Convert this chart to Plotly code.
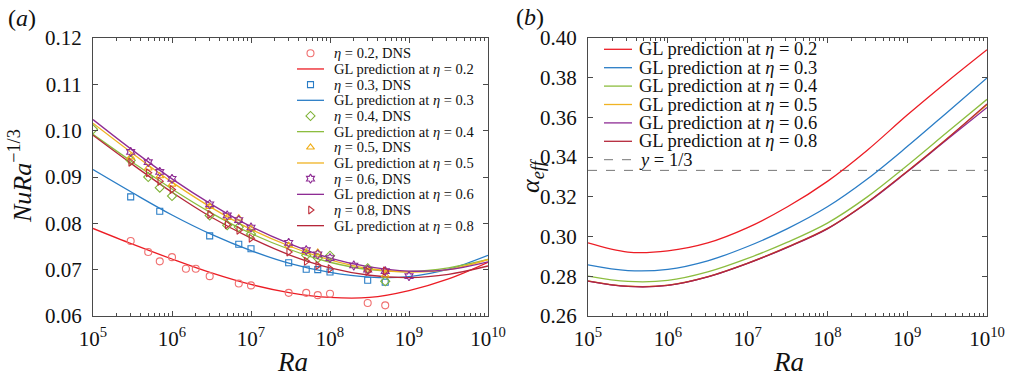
import plotly.graph_objects as go

# ---------------- data ----------------
ETA_LABELS = ["0.2", "0.3", "0.4", "0.5", "0.6", "0.8"]

# GL-prediction sampling points (Ra)
RA_GRID = [1e5, 3.162e5, 1e6, 3.162e6, 1e7, 3.162e7, 1e8, 3.162e8, 1e9, 3.162e9, 1e10]

# panel (a): Nu Ra^(-1/3), GL predictions
GL_NU_02 = [0.0789, 0.0755, 0.0723, 0.0693, 0.0668, 0.0650, 0.0640, 0.0640, 0.0655, 0.0680, 0.0716]
GL_NU_03 = [0.0916, 0.0866, 0.0818, 0.0776, 0.0741, 0.0713, 0.0694, 0.0684, 0.0685, 0.0701, 0.0731]
GL_NU_04 = [0.0992, 0.0932, 0.0874, 0.0822, 0.0778, 0.0743, 0.0716, 0.0700, 0.0696, 0.0704, 0.0722]
GL_NU_05 = [0.1016, 0.0951, 0.0889, 0.0834, 0.0787, 0.0750, 0.0721, 0.0702, 0.0695, 0.0700, 0.0722]
GL_NU_06 = [0.1024, 0.0958, 0.0896, 0.0841, 0.0793, 0.0755, 0.0725, 0.0706, 0.0697, 0.0700, 0.0717]
GL_NU_08 = [0.0990, 0.0927, 0.0867, 0.0813, 0.0768, 0.0731, 0.0704, 0.0688, 0.0683, 0.0690, 0.0708]

# panel (a): DNS points
DNS_RA_02 = [3e5, 5e5, 7e5, 1e6, 1.5e6, 2e6, 3e6, 7e6, 1e7, 3e7, 5e7, 7e7, 1e8, 3e8, 5e8]
DNS_NU_02 = [0.0762, 0.0738, 0.0718, 0.0727, 0.0702, 0.0702, 0.0686, 0.0670, 0.0666, 0.0650, 0.0650,
             0.0645, 0.0648, 0.0628, 0.0623]
DNS_RA_03 = [3e5, 7e5, 3e6, 7e6, 1e7, 3e7, 5e7, 7e7, 1e8, 3e8, 5e8]
DNS_NU_03 = [0.0857, 0.0826, 0.0773, 0.0755, 0.0745, 0.0715, 0.0701, 0.0700, 0.0695, 0.0677, 0.0673]
DNS_RA_04 = [1e5, 3e5, 5e5, 7e5, 1e6, 3e6, 5e6, 7e6, 1e7, 5e7, 7e7, 1e8, 3e8, 5e8]
DNS_NU_04 = [0.1003, 0.0936, 0.0900, 0.0877, 0.0859, 0.0817, 0.0796, 0.0792, 0.0777, 0.0731, 0.0725,
             0.0730, 0.0703, 0.0675]
DNS_RA_05 = [3e5, 5e5, 7e5, 1e6, 3e6, 5e6, 7e6, 1e7, 3e7, 5e7, 7e7, 3e8, 5e8]
DNS_NU_05 = [0.0943, 0.0919, 0.0902, 0.0884, 0.0836, 0.0812, 0.0811, 0.0788, 0.0752, 0.0738, 0.0737,
             0.0701, 0.0688]
DNS_RA_06 = [3e5, 5e5, 7e5, 1e6, 3e6, 5e6, 7e6, 1e7, 3e7, 5e7, 7e7, 1e8, 2e8, 3e8, 5e8, 1e9]
DNS_NU_06 = [0.0954, 0.0932, 0.0911, 0.0896, 0.0841, 0.0817, 0.0807, 0.0791, 0.0758, 0.0742, 0.0733,
             0.0725, 0.0709, 0.0700, 0.0697, 0.0686]
DNS_RA_08 = [3e5, 5e5, 7e5, 1e6, 3e6, 5e6, 7e6, 1e7, 3e7, 5e7, 7e7, 1e8, 3e8, 5e8]
DNS_NU_08 = [0.0932, 0.0909, 0.0891, 0.0873, 0.0819, 0.0797, 0.0785, 0.0768, 0.0738, 0.0718, 0.0709,
             0.0702, 0.0696, 0.0697]

# panel (b): alpha_eff, GL predictions
ALPHA_02 = [0.2968, 0.2922, 0.2928, 0.2968, 0.3045, 0.3150, 0.3278, 0.3435, 0.3612, 0.3780, 0.3941]
ALPHA_03 = [0.2858, 0.2829, 0.2835, 0.2878, 0.2950, 0.3040, 0.3150, 0.3290, 0.3453, 0.3625, 0.3799]
ALPHA_04 = [0.2801, 0.2774, 0.2779, 0.2822, 0.2890, 0.2972, 0.3068, 0.3200, 0.3358, 0.3525, 0.3691]
ALPHA_05 = [0.2777, 0.2750, 0.2755, 0.2798, 0.2866, 0.2948, 0.3041, 0.3173, 0.3329, 0.3494, 0.3663]
ALPHA_06 = [0.2776, 0.2749, 0.2754, 0.2797, 0.2865, 0.2946, 0.3039, 0.3170, 0.3326, 0.3489, 0.3650]
ALPHA_08 = [0.2776, 0.2749, 0.2754, 0.2797, 0.2865, 0.2947, 0.3040, 0.3172, 0.3328, 0.3493, 0.3668]
ONE_THIRD = 1 / 3

X_TICKS = [1e5, 1e6, 1e7, 1e8, 1e9, 1e10]
X_TICKTEXT = ["10<sup>5</sup>", "10<sup>6</sup>", "10<sup>7</sup>", "10<sup>8</sup>",
              "10<sup>9</sup>", "10<sup>10</sup>"]
X_MINOR_TICKS = [m * d for d in X_TICKS[:-1] for m in range(2, 10)]
YA_TICKS = [0.06, 0.07, 0.08, 0.09, 0.10, 0.11, 0.12]
YB_TICKS = [0.26, 0.28, 0.30, 0.32, 0.34, 0.36, 0.38, 0.40]

# ---------------- style ----------------
W, H = 1013, 379
FONT = "Liberation Serif, Times New Roman, serif"
LINE_COLORS = ["#ec1c24", "#2a7dc6", "#8cbd3f", "#f0b323", "#8e2c94", "#b5273a"]
MARKER_COLORS = ["#f07070", "#2a7dc6", "#7fb236", "#f0ad16", "#8e2c94", "#c0313d"]
SYMBOLS = ["circle-open", "square-open", "diamond-open", "triangle-up-open",
           "hexagram-open", "triangle-right-open"]
MSIZE = [7, 6, 7, 7, 7, 7]
AXIS_COL = "#4a4a4a"

# pixel geometry of the two panels
LX0, LX1 = 93, 488
RX0, RX1 = 588, 987
PY0, PY1 = 38, 316

gl_nu = [GL_NU_02, GL_NU_03, GL_NU_04, GL_NU_05, GL_NU_06, GL_NU_08]
dns_ra = [DNS_RA_02, DNS_RA_03, DNS_RA_04, DNS_RA_05, DNS_RA_06, DNS_RA_08]
dns_nu = [DNS_NU_02, DNS_NU_03, DNS_NU_04, DNS_NU_05, DNS_NU_06, DNS_NU_08]
alphas = [ALPHA_02, ALPHA_03, ALPHA_04, ALPHA_05, ALPHA_06, ALPHA_08]

fig = go.Figure()

# panel (a) curves & points
for i in range(len(ETA_LABELS)):
    fig.add_trace(go.Scatter(x=RA_GRID, y=gl_nu[i], mode="lines", line=dict(color=LINE_COLORS[i], width=1.3,
                             shape="spline", smoothing=1.0), xaxis="x", yaxis="y", showlegend=False))
for i in range(len(ETA_LABELS)):
    fig.add_trace(go.Scatter(x=dns_ra[i], y=dns_nu[i], mode="markers",
                             marker=dict(symbol=SYMBOLS[i], size=MSIZE[i], color=MARKER_COLORS[i],
                                         line=dict(width=1.1, color=MARKER_COLORS[i])),
                             xaxis="x", yaxis="y", showlegend=False))

# panel (b)
fig.add_trace(go.Scatter(x=[X_TICKS[0], X_TICKS[-1]], y=[ONE_THIRD, ONE_THIRD], mode="lines",
                         line=dict(color="#777777", width=1, dash="dash"), xaxis="x2", yaxis="y2",
                         showlegend=False))
for i in range(len(ETA_LABELS)):
    fig.add_trace(go.Scatter(x=RA_GRID, y=alphas[i], mode="lines",
                             line=dict(color=LINE_COLORS[i], width=1.3, shape="spline", smoothing=1.0),
                             xaxis="x2", yaxis="y2", showlegend=False))

# ---------------- hand-made legends on a pixel overlay ----------------
annotations = []
LEG_A_Y0, LEG_A_DY = 53.3, 15.67
LEG_A_LINE = (297, 324)
LEG_A_TEXT_X = 332
LEG_A_FS = 14.5
row = 0
for i, eta in enumerate(ETA_LABELS):
    yy = LEG_A_Y0 + LEG_A_DY * row
    fig.add_trace(go.Scatter(x=[(LEG_A_LINE[0] + LEG_A_LINE[1]) / 2], y=[yy], mode="markers",
                             marker=dict(symbol=SYMBOLS[i], size=MSIZE[i], color=MARKER_COLORS[i],
                                         line=dict(width=1.1, color=MARKER_COLORS[i])),
                             xaxis="x3", yaxis="y3", showlegend=False, hoverinfo="skip"))
    annotations.append(dict(x=LEG_A_TEXT_X, y=yy, xref="x3", yref="y3", xanchor="left", yanchor="middle",
                            text=f"<i>η</i> = {eta}, DNS", showarrow=False,
                            font=dict(family=FONT, size=LEG_A_FS, color="#111")))
    row += 1
    yy = LEG_A_Y0 + LEG_A_DY * row
    fig.add_trace(go.Scatter(x=list(LEG_A_LINE), y=[yy, yy], mode="lines",
                             line=dict(color=LINE_COLORS[i], width=1.3),
                             xaxis="x3", yaxis="y3", showlegend=False, hoverinfo="skip"))
    annotations.append(dict(x=LEG_A_TEXT_X, y=yy, xref="x3", yref="y3", xanchor="left", yanchor="middle",
                            text=f"GL prediction at <i>η</i> = {eta}", showarrow=False,
                            font=dict(family=FONT, size=LEG_A_FS, color="#111")))
    row += 1

LEG_B_Y0, LEG_B_DY = 49.3, 18.4
LEG_B_LINE = (604, 632)
LEG_B_TEXT_X = 637
LEG_B_FS = 18.5
for i, eta in enumerate(ETA_LABELS):
    yy = LEG_B_Y0 + LEG_B_DY * i
    fig.add_trace(go.Scatter(x=list(LEG_B_LINE), y=[yy, yy], mode="lines",
                             line=dict(color=LINE_COLORS[i], width=1.3),
                             xaxis="x3", yaxis="y3", showlegend=False, hoverinfo="skip"))
    annotations.append(dict(x=LEG_B_TEXT_X, y=yy, xref="x3", yref="y3", xanchor="left", yanchor="middle",
                            text=f"GL prediction at <i>η</i> = {eta}", showarrow=False,
                            font=dict(family=FONT, size=LEG_B_FS, color="#111")))
yy = LEG_B_Y0 + LEG_B_DY * len(ETA_LABELS)
fig.add_trace(go.Scatter(x=list(LEG_B_LINE), y=[yy, yy], mode="lines",
                         line=dict(color="#777777", width=1, dash="dash"),
                         xaxis="x3", yaxis="y3", showlegend=False, hoverinfo="skip"))
annotations.append(dict(x=LEG_B_TEXT_X, y=yy, xref="x3", yref="y3", xanchor="left", yanchor="middle",
                        text="<i>y</i> = 1/3", showarrow=False, font=dict(family=FONT, size=LEG_B_FS, color="#111")))

# panel labels & axis titles
annotations += [
    dict(x=6, y=18, xref="x3", yref="y3", xanchor="left", yanchor="middle", text="(<i>a</i>)",
         showarrow=False, font=dict(family=FONT, size=24, color="#111")),
    dict(x=514, y=17, xref="x3", yref="y3", xanchor="left", yanchor="middle", text="(<i>b</i>)",
         showarrow=False, font=dict(family=FONT, size=24, color="#111")),
    dict(x=292, y=362, xref="x3", yref="y3", xanchor="center", yanchor="middle",
         text="<i>Ra</i>", showarrow=False, font=dict(family=FONT, size=27, color="#111")),
    dict(x=788, y=362, xref="x3", yref="y3", xanchor="center", yanchor="middle",
         text="<i>Ra</i>", showarrow=False, font=dict(family=FONT, size=27, color="#111")),
    dict(x=20, y=176, xref="x3", yref="y3", xanchor="center", yanchor="middle", textangle=-90,
         text="<i>NuRa</i><sup>−1/3</sup>", showarrow=False, font=dict(family=FONT, size=26, color="#111")),
    dict(x=532, y=176, xref="x3", yref="y3", xanchor="center", yanchor="middle", textangle=-90,
         text="<i>α</i><sub><i>eff</i></sub>", showarrow=False, font=dict(family=FONT, size=26, color="#111")),
]

common_x = dict(type="log", range=[5, 10], tickmode="array", tickvals=X_TICKS, ticktext=X_TICKTEXT,
                ticks="inside", ticklen=5,
                tickcolor=AXIS_COL, showline=True, linecolor=AXIS_COL, linewidth=1, mirror="ticks",
                showgrid=False, zeroline=False, tickfont=dict(family=FONT, size=21, color="#111"),
                minor=dict(ticks="inside", ticklen=3, tickcolor=AXIS_COL, showgrid=False,
                           tickmode="array", tickvals=X_MINOR_TICKS),
                ticklabelstandoff=4, automargin=False)
common_y = dict(ticks="inside", ticklen=5, tickcolor=AXIS_COL, showline=True, linecolor=AXIS_COL, linewidth=1,
                mirror="ticks", showgrid=False, zeroline=False, tickformat=".2f",
                tickfont=dict(family=FONT, size=21, color="#111"), ticklabelstandoff=6, automargin=False)

fig.update_layout(
    template="none",
    width=W, height=H, margin=dict(l=0, r=0, t=0, b=0, pad=0, autoexpand=False),
    font=dict(family=FONT),
    paper_bgcolor="white", plot_bgcolor="rgba(0,0,0,0)", showlegend=False,
    xaxis=dict(common_x, domain=[LX0 / W, LX1 / W], anchor="y"),
    yaxis=dict(common_y, domain=[1 - PY1 / H, 1 - PY0 / H], range=[0.06, 0.12], tickvals=YA_TICKS, anchor="x"),
    xaxis2=dict(common_x, domain=[RX0 / W, RX1 / W], anchor="y2"),
    yaxis2=dict(common_y, domain=[1 - PY1 / H, 1 - PY0 / H], range=[0.26, 0.40], tickvals=YB_TICKS, anchor="x2"),
    xaxis3=dict(domain=[0, 1], range=[0, W], visible=False, fixedrange=True, anchor="y3", automargin=False),
    yaxis3=dict(domain=[0, 1], range=[H, 0], visible=False, fixedrange=True, anchor="x3", automargin=False),
    annotations=annotations,
)

fig.write_html("out.html", config={"displayModeBar": False},
               post_script="document.body.style.margin='0px';document.body.style.overflow='hidden';")
